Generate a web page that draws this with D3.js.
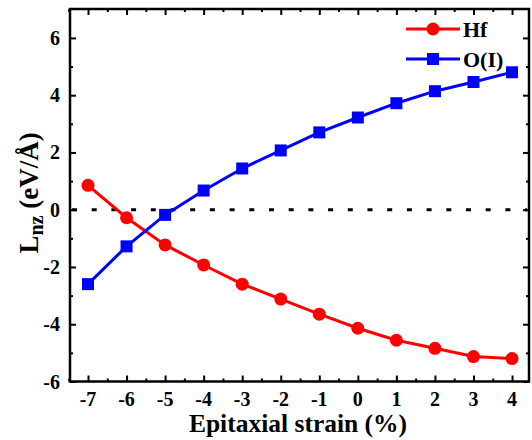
<!DOCTYPE html>
<html><head><meta charset="utf-8">
<script src="https://cdn.jsdelivr.net/npm/d3@7"></script>
<style>
body{margin:0;background:#fff;}
</style></head>
<body><svg id="c" width="532" height="440" font-family="Liberation Serif" font-weight="bold"></svg>
<script>
const strain = [-7,-6,-5,-4,-3,-2,-1,0,1,2,3,4];
const hf = [0.85,-0.28,-1.23,-1.93,-2.6,-3.12,-3.65,-4.14,-4.56,-4.84,-5.13,-5.2];
const oI = [-2.6,-1.28,-0.18,0.67,1.44,2.07,2.7,3.22,3.72,4.14,4.46,4.8];
const xTicks = [-7,-6,-5,-4,-3,-2,-1,0,1,2,3,4];
const yTicks = [-6,-4,-2,0,2,4,6];
const seriesNames = ["Hf","O(I)"];
const seriesColors = ["#ff0000","#0000ff"];

const svg = d3.select("#c");
const L=70, R=529, T=9, B=381.5;
const x = d3.scaleLinear().domain([-7.467,4.44]).range([L,R]);
const y = d3.scaleLinear().domain([-6,7.01]).range([B,T]);

svg.append("line").attr("x1",L+2).attr("x2",R-2).attr("y1",y(0)).attr("y2",y(0))
  .attr("stroke","#000").attr("stroke-width",3).attr("stroke-dasharray","5,14.7");

const xMinor = d3.range(-7.5,4.5,1);
const yMinor = [-5,-3,-1,1,3,5];

function axis(g, gen){ g.call(gen); g.select(".domain").remove(); g.selectAll("line").attr("stroke","#000").attr("stroke-width",2); }

const gb = svg.append("g").attr("transform",`translate(0,${B})`);
axis(gb, d3.axisTop(x).tickValues(xTicks).tickSize(6).tickFormat(""));
const gbm = svg.append("g").attr("transform",`translate(0,${B})`);
axis(gbm, d3.axisTop(x).tickValues(xMinor).tickSize(3).tickFormat(""));
svg.append("g").selectAll("text").data(xTicks).join("text")
  .attr("x",d=>x(d)).attr("y",406).attr("text-anchor","middle").attr("font-size",20).text(d=>d);
const gt = svg.append("g").attr("transform",`translate(0,${T})`);
axis(gt, d3.axisBottom(x).tickValues(xTicks).tickSize(6).tickFormat(""));
const gtm = svg.append("g").attr("transform",`translate(0,${T})`);
axis(gtm, d3.axisBottom(x).tickValues(xMinor).tickSize(3).tickFormat(""));
const gl = svg.append("g").attr("transform",`translate(${L},0)`);
axis(gl, d3.axisRight(y).tickValues(yTicks).tickSize(6).tickFormat(""));
const glm = svg.append("g").attr("transform",`translate(${L},0)`);
axis(glm, d3.axisRight(y).tickValues(yMinor).tickSize(3).tickFormat(""));
svg.append("g").selectAll("text").data(yTicks).join("text")
  .attr("x",60).attr("y",d=>y(d)+7).attr("text-anchor","end").attr("font-size",20).text(d=>d);
const gr = svg.append("g").attr("transform",`translate(${R},0)`);
axis(gr, d3.axisLeft(y).tickValues(yTicks).tickSize(6).tickFormat(""));
const grm = svg.append("g").attr("transform",`translate(${R},0)`);
axis(grm, d3.axisLeft(y).tickValues(yMinor).tickSize(3).tickFormat(""));

svg.append("rect").attr("x",L).attr("y",T).attr("width",R-L).attr("height",B-T)
  .attr("fill","none").attr("stroke","#000").attr("stroke-width",2.5);

const line = d3.line().x((d,i)=>x(strain[i])).y(d=>y(d));
svg.append("path").datum(hf).attr("d",line).attr("fill","none").attr("stroke",seriesColors[0]).attr("stroke-width",3);
svg.append("path").datum(oI).attr("d",line).attr("fill","none").attr("stroke",seriesColors[1]).attr("stroke-width",3);
svg.append("g").selectAll("circle").data(hf).join("circle")
  .attr("cx",(d,i)=>x(strain[i])).attr("cy",d=>y(d)).attr("r",6.5).attr("fill",seriesColors[0]);
svg.append("g").selectAll("rect").data(oI).join("rect")
  .attr("x",(d,i)=>x(strain[i])-6).attr("y",d=>y(d)-6).attr("width",12).attr("height",12).attr("fill",seriesColors[1]);

const lg = svg.append("g");
[29,59].forEach((ly,i)=>{
  lg.append("line").attr("x1",406).attr("x2",460).attr("y1",ly).attr("y2",ly).attr("stroke",seriesColors[i]).attr("stroke-width",3);
  if(i===0) lg.append("circle").attr("cx",433).attr("cy",ly).attr("r",6.5).attr("fill",seriesColors[i]);
  else lg.append("rect").attr("x",427).attr("y",ly-6).attr("width",12).attr("height",12).attr("fill",seriesColors[i]);
  lg.append("text").attr("x",463).attr("y",ly+8).attr("font-size",22).text(seriesNames[i]);
});

svg.append("text").attr("x",298).attr("y",432).attr("text-anchor","middle").attr("font-size",25.5).text("Epitaxial strain (%)");
const yt = svg.append("text").attr("transform","translate(38,193) rotate(-90)").attr("text-anchor","middle").attr("font-size",27);
yt.append("tspan").text("L");
yt.append("tspan").attr("font-size",20).attr("dy",5).text("nz");
yt.append("tspan").attr("dy",-5).text(" (eV/Å)");
</script></body></html>
